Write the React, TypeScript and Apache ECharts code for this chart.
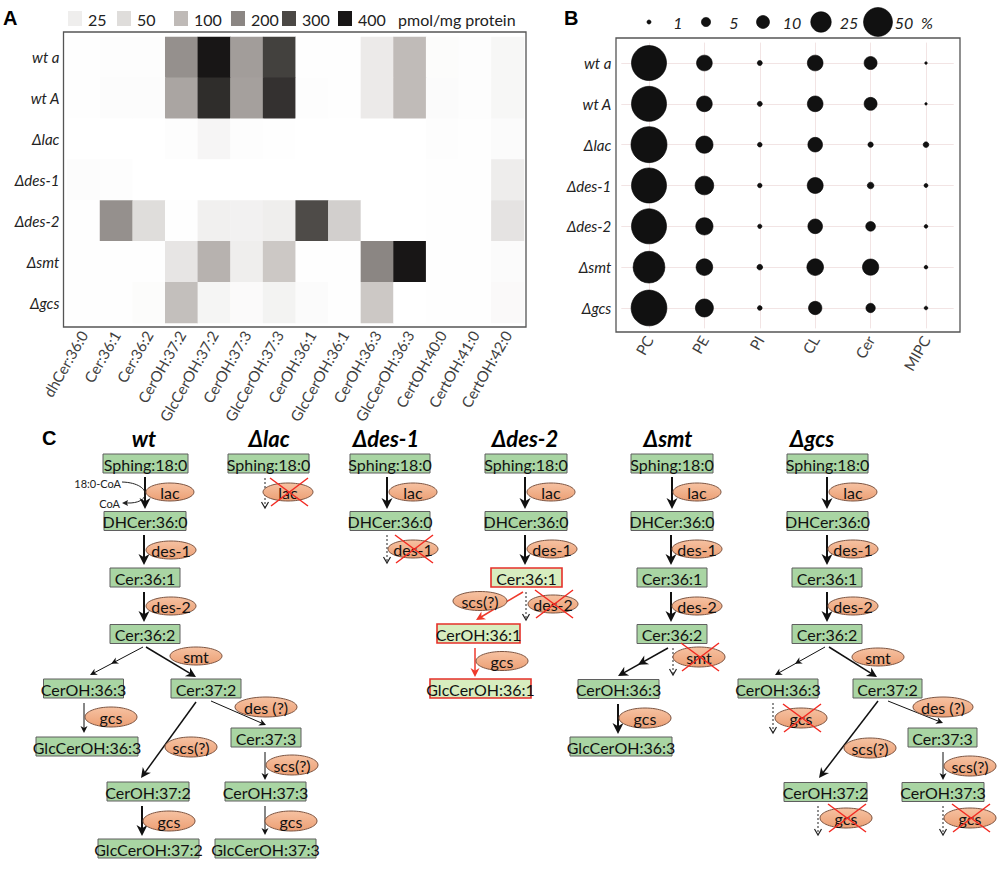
import React, { useEffect, useRef } from 'react';
import * as echarts from 'echarts';

// ---------- Panel A data (pmol/mg protein) ----------
const heatRows = ['wt a', 'wt A', 'Δlac', 'Δdes-1', 'Δdes-2', 'Δsmt', 'Δgcs'];
const heatCols = [
  'dhCer:36:0', 'Cer:36:1', 'Cer:36:2', 'CerOH:37:2', 'GlcCerOH:37:2', 'CerOH:37:3',
  'GlcCerOH:37:3', 'CerOH:36:1', 'GlcCerOH:36:1', 'CerOH:36:3', 'GlcCerOH:36:3',
  'CertOH:40:0', 'CertOH:41:0', 'CertOH:42:0',
];
const wtaVals = [2, 3, 3, 180, 420, 155, 315, 2, 2, 30, 98, 5, 3, 12];
const wtAVals = [2, 4, 4, 140, 355, 150, 345, 3, 2, 30, 98, 6, 3, 12];
const lacVals = [0, 0, 0, 3, 14, 3, 1, 0, 0, 0, 0, 3, 1, 6];
const des1Vals = [4, 3, 0, 0, 0, 0, 0, 0, 0, 0, 0, 2, 1, 26];
const des2Vals = [1, 180, 50, 2, 22, 20, 25, 295, 70, 0, 0, 2, 1, 40];
const smtVals = [1, 2, 2, 38, 115, 25, 80, 2, 1, 200, 430, 2, 1, 6];
const gcsVals = [1, 2, 5, 93, 15, 7, 18, 6, 1, 80, 0, 2, 1, 8];
const heatMatrix = [wtaVals, wtAVals, lacVals, des1Vals, des2Vals, smtVals, gcsVals];
const heatLegend = [25, 50, 100, 200, 300, 400];
const heatUnit = 'pmol/mg protein';

// ---------- Panel B data (%) ----------
const lipidCats = ['PC', 'PE', 'PI', 'CL', 'Cer', 'MIPC'];
const pcPct = [73, 73, 77, 73, 73, 60, 76];
const pePct = [14.7, 14.7, 17.8, 20.8, 17.8, 16.5, 19.3];
const piPct = [1.5, 1.5, 1.3, 1.2, 1.1, 1.9, 1.3];
const clPct = [14.7, 14.7, 12.8, 15.2, 12.8, 16.5, 10.6];
const cerPct = [10, 10, 1.7, 2.6, 5.6, 15.8, 5.2];
const mipcPct = [0.4, 0.37, 1.9, 0.95, 0.8, 0.8, 0.8];
const lipidMatrix = [pcPct, pePct, piPct, clPct, cerPct, mipcPct];
const bubbleLegend = [1, 5, 10, 25, 50];

// ---------- styles ----------
const FONT = 'Lato, "Open Sans", sans-serif';
const colorStops = ['#ffffff', '#bfbab7', '#8b8683', '#4b4845', '#181616'];
const HEAT_MAX = 400;
const bubbleSize = (v: number) => 4.1 * Math.sqrt(v);

function hexToRgb(h: string) {
  return [parseInt(h.slice(1, 3), 16), parseInt(h.slice(3, 5), 16), parseInt(h.slice(5, 7), 16)];
}
function heatColor(v: number) {
  const t = Math.max(0, Math.min(1, v / HEAT_MAX)) * (colorStops.length - 1);
  const i = Math.min(colorStops.length - 2, Math.floor(t));
  const f = t - i;
  const a = hexToRgb(colorStops[i]);
  const b = hexToRgb(colorStops[i + 1]);
  const c = a.map((x, k) => Math.round(x + (b[k] - x) * f));
  return `rgb(${c[0]},${c[1]},${c[2]})`;
}

function buildGraphics() {
  const els: any[] = [];
  const push = (e: any) => els.push(e);

  // panel letters
  push({ type: 'text', style: { text: 'A', x: 3, y: 18, font: 'bold 20px "Liberation Sans", Arial', fill: '#000', textVerticalAlign: 'middle', verticalAlign: 'middle' } });
  push({ type: 'text', style: { text: 'B', x: 564, y: 18, font: 'bold 20px "Liberation Sans", Arial', fill: '#000', textVerticalAlign: 'middle', verticalAlign: 'middle' } });
  push({ type: 'text', style: { text: 'C', x: 42, y: 438, font: 'bold 20px "Liberation Sans", Arial', fill: '#000', textVerticalAlign: 'middle', verticalAlign: 'middle' } });

  // frames
  push({ type: 'rect', shape: { x: 63.5, y: 32, width: 462.5, height: 295 }, style: { fill: 'none', stroke: '#555', lineWidth: 1.3 }, z: 50 });
  push({ type: 'rect', shape: { x: 616, y: 38, width: 344, height: 294 }, style: { fill: 'none', stroke: '#555', lineWidth: 1.3 }, z: 50 });

  // legend A
  const legX = [68, 117, 174, 231, 282, 338];
  heatLegend.forEach((v, i) => {
    push({ type: 'rect', shape: { x: legX[i], y: 11, width: 14, height: 15 }, style: { fill: heatColor(v), stroke: 'none' } });
    push({ type: 'text', style: { text: String(v), x: legX[i] + 20, y: 19, font: `16px ${FONT}`, fill: '#222', textVerticalAlign: 'middle', verticalAlign: 'middle' } });
  });
  push({ type: 'text', style: { text: heatUnit, x: 398, y: 19, font: `16px ${FONT}`, fill: '#222', textVerticalAlign: 'middle', verticalAlign: 'middle' } });

  // legend B
  const bx = [649, 706, 763, 821, 878];
  const blx = [678, 734, 792, 849, 904];
  bubbleLegend.forEach((v, i) => {
    push({ type: 'circle', shape: { cx: bx[i], cy: 22, r: bubbleSize(v) / 2 }, style: { fill: '#111', stroke: '#000', lineWidth: 0.6 } });
    push({ type: 'text', style: { text: String(v), x: blx[i], y: 22, font: `italic 16px ${FONT}`, fill: '#222', textAlign: 'center', textVerticalAlign: 'middle', verticalAlign: 'middle' } });
  });
  push({ type: 'text', style: { text: '%', x: 927, y: 22, font: `italic 16px ${FONT}`, fill: '#222', textAlign: 'center', textVerticalAlign: 'middle', verticalAlign: 'middle' } });

  // ---------- Panel C helpers ----------
  const box = (cx: number, cy: number, w: number, label: string, red = false) => {
    push({ type: 'rect', shape: { x: cx - w / 2, y: cy - 9.5, width: w, height: 19 }, style: { fill: red ? '#d8edbf' : '#a9d5a3', stroke: red ? '#e5302a' : '#5f5f5f', lineWidth: red ? 1.6 : 1 }, z: 10 });
    push({ type: 'text', style: { text: label, x: cx, y: cy + 0.5, font: `16px ${FONT}`, fill: '#111', textAlign: 'center', textVerticalAlign: 'middle', verticalAlign: 'middle' }, z: 11 });
  };
  const ell = (cx: number, cy: number, label: string, crossed = false, rx = 26, ry = 9.5) => {
    push({
      type: 'ellipse', shape: { cx, cy, rx, ry },
      style: {
        fill: new echarts.graphic.LinearGradient(0, 0, 0, 1, [
          { offset: 0, color: '#f6c2a2' }, { offset: 1, color: '#ec9f74' },
        ]),
        stroke: '#7d5542', lineWidth: 1,
      }, z: 12,
    });
    push({ type: 'text', style: { text: label, x: cx, y: cy + 0.5, font: `16px ${FONT}`, fill: '#111', textAlign: 'center', textVerticalAlign: 'middle', verticalAlign: 'middle' }, z: 13 });
    if (crossed) {
      push({ type: 'line', shape: { x1: cx - 18, y1: cy - 14, x2: cx + 20, y2: cy + 14 }, style: { stroke: '#f22a22', lineWidth: 1.5 }, z: 14 });
      push({ type: 'line', shape: { x1: cx + 20, y1: cy - 14, x2: cx - 17, y2: cy + 14 }, style: { stroke: '#f22a22', lineWidth: 1.5 }, z: 14 });
    }
  };
  const arrow = (x1: number, y1: number, x2: number, y2: number, w: number, L: number, W: number, color = '#111', mid = false) => {
    const dx = x2 - x1, dy = y2 - y1, len = Math.hypot(dx, dy);
    const ux = dx / len, uy = dy / len, nx = -uy, ny = ux;
    const head = (px: number, py: number) => {
      const bxp = px - ux * L, byp = py - uy * L;
      return {
        type: 'polygon',
        shape: { points: [[px, py], [bxp + nx * W, byp + ny * W], [px - ux * L * 0.7, py - uy * L * 0.7], [bxp - nx * W, byp - ny * W]] },
        style: { fill: color }, z: 9,
      };
    };
    push({ type: 'line', shape: { x1, y1, x2: x2 - ux * L * 0.6, y2: y2 - uy * L * 0.6 }, style: { stroke: color, lineWidth: w }, z: 8 });
    push(head(x2, y2));
    if (mid) push(head(x1 + dx * 0.6, y1 + dy * 0.6));
  };
  const thick = (x1: number, y1: number, x2: number, y2: number, mid = false) => arrow(x1, y1, x2, y2, 2, 11, 5.5, '#111', mid);
  const med = (x1: number, y1: number, x2: number, y2: number, mid = false) => arrow(x1, y1, x2, y2, 1.5, 10, 5, '#111', mid);
  const thin = (x1: number, y1: number, x2: number, y2: number, mid = false) => arrow(x1, y1, x2, y2, 1, 7, 3.5, '#111', mid);
  const redA = (x1: number, y1: number, x2: number, y2: number) => arrow(x1, y1, x2, y2, 1.5, 9, 4.5, '#ee3a2c');
  const dash = (x: number, y1: number, y2: number) => {
    push({ type: 'line', shape: { x1: x, y1, x2: x, y2: y2 - 1 }, style: { stroke: '#222', lineWidth: 1, lineDash: [2, 2] }, z: 8 });
    push({ type: 'polyline', shape: { points: [[x - 3.5, y2 - 6], [x, y2], [x + 3.5, y2 - 6]] }, style: { stroke: '#222', lineWidth: 1.2, fill: 'none' }, z: 8 });
  };
  const title = (cx: number, t: string) => {
    push({ type: 'text', style: { text: t, x: cx, y: 438, font: `italic bold 22px ${FONT}`, fill: '#000', textAlign: 'center', textVerticalAlign: 'middle', verticalAlign: 'middle' } });
  };

  // ---------- wt ----------
  title(144, 'wt');
  box(145.5, 463.5, 85, 'Sphing:18:0');
  thick(145, 477, 145, 509);
  ell(170, 492, 'lac', false, 24, 9);
  push({ type: 'text', style: { text: '18:0-CoA', x: 121, y: 483, font: `11px ${FONT}`, fill: '#222', textAlign: 'right', textVerticalAlign: 'middle', verticalAlign: 'middle' } });
  push({ type: 'text', style: { text: 'CoA', x: 120, y: 503, font: `11px ${FONT}`, fill: '#222', textAlign: 'right', textVerticalAlign: 'middle', verticalAlign: 'middle' } });
  push({ type: 'bezierCurve', shape: { x1: 122, y1: 482, cpx1: 152, cpy1: 483, cpx2: 152, cpy2: 504, x2: 127, y2: 503 }, style: { stroke: '#222', lineWidth: 1, fill: 'none' }, z: 8 });
  push({ type: 'polygon', shape: { points: [[122, 503], [128, 500], [127, 503], [128, 506]] }, style: { fill: '#222' }, z: 8 });
  box(145, 521, 82, 'DHCer:36:0');
  thick(144, 535, 144, 565);
  ell(171, 550, 'des-1', false, 25, 9);
  box(145, 577.5, 70, 'Cer:36:1');
  thick(144, 592, 144, 622);
  ell(171, 606, 'des-2', false, 25, 9);
  box(145, 634, 70, 'Cer:36:2');
  thin(143, 647, 90, 675, true);
  med(146, 647, 196, 677);
  ell(196, 656, 'smt', false, 26, 9);
  box(83.5, 688.5, 80, 'CerOH:36:3');
  box(206, 688.5, 70, 'Cer:37:2');
  thin(84, 703, 84, 733);
  ell(111, 717, 'gcs', false, 26, 10);
  box(87, 746.5, 102, 'GlcCerOH:36:3');
  med(196, 702, 141, 778);
  thin(211, 701, 266, 725);
  ell(266, 707, 'des (?)', false, 31, 10);
  ell(191, 747, 'scs(?)', false, 26, 10);
  box(266, 737.5, 70, 'Cer:37:3');
  thin(265, 752, 265, 780);
  ell(292, 765, 'scs(?)', false, 26, 10);
  box(148, 791.5, 82, 'CerOH:37:2');
  box(265.5, 791.5, 81, 'CerOH:37:3');
  thick(142, 806, 142, 836);
  ell(169, 821, 'gcs', false, 26, 10);
  thin(265, 806, 265, 835);
  ell(291, 821, 'gcs', false, 26, 10);
  box(148.5, 848.5, 101, 'GlcCerOH:37:2');
  box(265.5, 848.5, 101, 'GlcCerOH:37:3');

  // ---------- Δlac ----------
  title(269, 'Δlac');
  box(268.5, 463.5, 81, 'Sphing:18:0');
  dash(265, 478, 508);
  ell(288, 492, 'lac', true, 25, 9);

  // ---------- Δdes-1 ----------
  title(386, 'Δdes-1');
  box(390, 463.5, 80, 'Sphing:18:0');
  thick(387, 477, 387, 509);
  ell(413, 492, 'lac', false, 24, 9);
  box(390, 521, 80, 'DHCer:36:0');
  dash(387, 535, 563);
  ell(413, 549, 'des-1', true, 25, 9);

  // ---------- Δdes-2 ----------
  title(525, 'Δdes-2');
  box(526, 463.5, 82, 'Sphing:18:0');
  thick(525, 477, 525, 509);
  ell(551, 492, 'lac', false, 24, 9);
  box(526, 521, 82, 'DHCer:36:0');
  thick(525, 535, 525, 565);
  ell(552, 549, 'des-1', false, 25, 9);
  box(526.5, 577.5, 71, 'Cer:36:1', true);
  dash(526, 592, 620);
  ell(553, 604, 'des-2', true, 25, 9);
  ell(480, 601, 'scs(?)', false, 27, 9.5);
  redA(523, 592, 476, 620);
  box(478.5, 633.5, 83, 'CerOH:36:1', true);
  redA(475, 648, 475, 677);
  ell(502, 661, 'gcs', false, 26, 9.5);
  box(480.5, 688.5, 101, 'GlcCerOH:36:1', true);

  // ---------- Δsmt ----------
  title(668, 'Δsmt');
  box(672, 463.5, 82, 'Sphing:18:0');
  thick(672, 477, 672, 509);
  ell(697, 492, 'lac', false, 24, 9);
  box(672, 521, 82, 'DHCer:36:0');
  thick(671, 535, 671, 565);
  ell(697, 549, 'des-1', false, 25, 9);
  box(672, 577.5, 70, 'Cer:36:1');
  thick(671, 592, 671, 622);
  ell(697, 606, 'des-2', false, 25, 9);
  box(672, 634, 70, 'Cer:36:2');
  med(668, 648, 618, 676, true);
  dash(673, 648, 675);
  ell(699, 657, 'smt', true, 26, 10);
  box(618.5, 689, 81, 'CerOH:36:3');
  thick(618, 704, 618, 734);
  ell(645, 718, 'gcs', false, 26, 10);
  box(621, 746.5, 102, 'GlcCerOH:36:3');

  // ---------- Δgcs ----------
  title(812, 'Δgcs');
  box(827.5, 463.5, 81, 'Sphing:18:0');
  thick(827, 477, 827, 509);
  ell(853, 492, 'lac', false, 24, 9);
  box(827.5, 521, 81, 'DHCer:36:0');
  thick(827, 535, 827, 565);
  ell(853, 549, 'des-1', false, 25, 9);
  box(827, 577.5, 70, 'Cer:36:1');
  thick(827, 592, 827, 622);
  ell(853, 606, 'des-2', false, 25, 9);
  box(827, 634, 70, 'Cer:36:2');
  thin(825, 647, 775, 675, true);
  med(829, 647, 877, 677);
  ell(878, 657, 'smt', false, 26, 9);
  box(778, 688.5, 80, 'CerOH:36:3');
  box(887.5, 688.5, 69, 'Cer:37:2');
  dash(773, 703, 733);
  ell(801, 718, 'gcs', true, 26, 10);
  med(878, 701, 819, 778);
  thin(888, 701, 943, 723);
  ell(943, 707, 'des (?)', false, 30, 10);
  ell(870, 748, 'scs(?)', false, 26, 10);
  box(942.5, 737.5, 69, 'Cer:37:3');
  thin(943, 752, 943, 780);
  ell(970, 766, 'scs(?)', false, 26, 10);
  box(825.5, 792, 83, 'CerOH:37:2');
  box(943, 792, 82, 'CerOH:37:3');
  dash(818, 806, 835);
  ell(846, 818, 'gcs', true, 26, 10);
  dash(943, 806, 835);
  ell(970, 818, 'gcs', true, 26, 10);

  return els;
}

export default function App() {
  const ref = useRef<HTMLDivElement>(null);
  useEffect(() => {
    if (!ref.current) return;
    const chart = echarts.init(ref.current, undefined, { renderer: 'svg' });

    const heatData: any[] = [];
    heatMatrix.forEach((row, r) => row.forEach((v, c) => heatData.push([c, r, v])));
    const bubbleData: any[] = [];
    lipidMatrix.forEach((col, c) => col.forEach((v, r) => bubbleData.push([c, r, v])));

    const axisLabelBase = { fontFamily: FONT, color: '#333' };

    const option: any = {
      animation: false,
      textStyle: { fontFamily: FONT },
      grid: [
        { left: 67.4, top: 37, width: 456.6, height: 286 },
        { left: 621.3, top: 42.6, width: 332.4, height: 285.8 },
      ],
      xAxis: [
        {
          type: 'category', gridIndex: 0, data: heatCols, offset: 4,
          axisLine: { show: false }, splitLine: { show: false },
          axisTick: { length: 3, alignWithLabel: true, lineStyle: { color: '#444' } },
          axisLabel: { ...axisLabelBase, rotate: 60, fontSize: 15, margin: 5, interval: 0, color: '#3e3e3e' },
        },
        {
          type: 'category', gridIndex: 1, data: lipidCats, offset: 3.6,
          axisLine: { show: false }, splitLine: { show: false },
          axisTick: { length: 3, alignWithLabel: true, lineStyle: { color: '#444' } },
          axisLabel: { ...axisLabelBase, rotate: 60, fontSize: 15, margin: 5, interval: 0, color: '#3e3e3e' },
        },
      ],
      yAxis: [
        {
          type: 'category', gridIndex: 0, data: heatRows, inverse: true, offset: 3,
          axisLine: { show: false }, splitLine: { show: false },
          axisTick: { length: 3, alignWithLabel: true, lineStyle: { color: '#444' } },
          axisLabel: { ...axisLabelBase, fontStyle: 'italic', fontSize: 15, margin: 5, color: '#222' },
        },
        {
          type: 'category', gridIndex: 1, data: heatRows, inverse: true, offset: 5,
          axisLine: { show: false }, splitLine: { show: false },
          axisTick: { length: 3, alignWithLabel: true, lineStyle: { color: '#444' } },
          axisLabel: { ...axisLabelBase, fontStyle: 'italic', fontSize: 15, margin: 5, color: '#222' },
        },
      ],
      visualMap: {
        show: false, type: 'continuous', min: 0, max: HEAT_MAX, seriesIndex: 0, dimension: 2,
        inRange: { color: colorStops },
      },
      series: [
        {
          type: 'heatmap', xAxisIndex: 0, yAxisIndex: 0, data: heatData,
          itemStyle: { borderWidth: 0 }, emphasis: { disabled: true }, silent: true,
        },
        {
          type: 'scatter', xAxisIndex: 1, yAxisIndex: 1, data: bubbleData, symbolSize: 0, silent: true, z: 1,
          markLine: {
            silent: true, z: 1, symbol: ['none', 'none'], label: { show: false },
            lineStyle: { color: '#f2e4e4', width: 1, type: 'solid' },
            data: [
              ...lipidCats.map((c) => ({ xAxis: c })),
              ...heatRows.map((r) => ({ yAxis: r })),
            ],
          },
        },
        {
          type: 'scatter', xAxisIndex: 1, yAxisIndex: 1, data: bubbleData, z: 10, silent: true,
          symbolSize: (v: number[]) => bubbleSize(v[2]),
          itemStyle: { color: '#111', borderColor: '#000', borderWidth: 0.6, opacity: 1 },
        },
      ],
      graphic: { elements: buildGraphics() },
    };
    chart.setOption(option);
    return () => chart.dispose();
  }, []);
  return <div ref={ref} style={{ position: 'absolute', left: 0, top: 0, width: 1000, height: 891 }} />;
}
